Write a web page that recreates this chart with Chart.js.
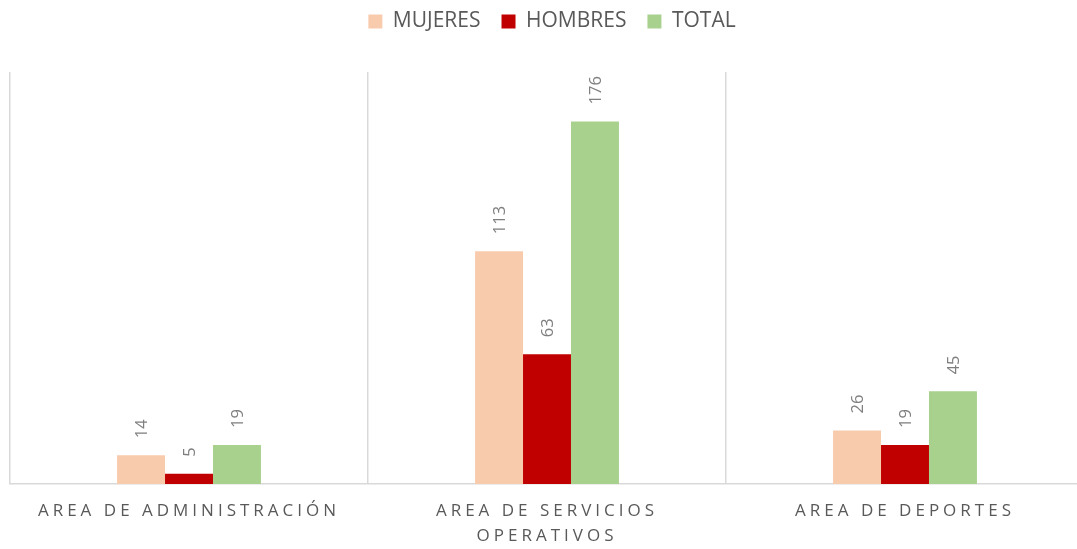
<!DOCTYPE html>
<html><head><meta charset="utf-8">
<script src="https://cdn.jsdelivr.net/npm/chart.js@4/dist/chart.umd.min.js"></script>
<style>
html,body{margin:0;padding:0;overflow:hidden;background:#fff;width:1077px;height:549px}
#wrap{position:relative;width:1100px;height:549px}
canvas{display:block}
</style></head>
<body><div id="wrap"><canvas id="c" width="1100" height="549"></canvas></div>
<script>
const categories = ['AREA DE ADMINISTRACIÓN', ['AREA DE SERVICIOS', 'OPERATIVOS'], 'AREA DE DEPORTES'];
const seriesNames = ['MUJERES', 'HOMBRES', 'TOTAL'];
const mujeres = [14, 113, 26];
const hombres = [5, 63, 19];
const total = [19, 176, 45];
const yMin = 0;
const yMax = 200;

const colors = ['#F8CBAD', '#C00000', '#A9D18E'];
const FONT = '"Open Sans", "Liberation Sans", sans-serif';

const layoutTweaks = {
  id: 'layoutTweaks',
  beforeUpdate(chart) {
    const lg = chart.legend;
    if (lg && !lg._fitPatched) {
      const origFit = lg.fit;
      lg.fit = function () {
        origFit.call(this);
        this.height += 30;
      };
      lg._fitPatched = true;
    }
  },
  beforeDraw(chart) {
    const s = chart.scales.x;
    if (s && !s._lsPatched) {
      const orig = s.drawLabels;
      s.drawLabels = function (ca) {
        const ctx = this.ctx;
        ctx.save();
        ctx.letterSpacing = '4px';
        orig.call(this, ca);
        ctx.restore();
      };
      s._lsPatched = true;
    }
  }
};

const valueLabels = {
  id: 'valueLabels',
  afterDatasetsDraw(chart) {
    const ctx = chart.ctx;
    ctx.save();
    ctx.font = '16.5px ' + FONT;
    ctx.fillStyle = '#7F7F7F';
    ctx.textAlign = 'left';
    ctx.textBaseline = 'middle';
    chart.data.datasets.forEach((ds, i) => {
      const meta = chart.getDatasetMeta(i);
      meta.data.forEach((el, j) => {
        ctx.save();
        ctx.translate(el.x + 1, el.y - 17);
        ctx.rotate(-Math.PI / 2);
        ctx.fillText(String(ds.data[j]), 0, 0);
        ctx.restore();
      });
    });
    ctx.restore();
  }
};

new Chart(document.getElementById('c'), {
  type: 'bar',
  data: {
    labels: categories,
    datasets: [
      { label: seriesNames[0], data: mujeres, backgroundColor: colors[0] },
      { label: seriesNames[1], data: hombres, backgroundColor: colors[1] },
      { label: seriesNames[2], data: total, backgroundColor: colors[2] }
    ]
  },
  options: {
    responsive: false,
    devicePixelRatio: 1,
    animation: false,
    layout: { padding: { top: -10, left: 10, right: 6, bottom: -15 } },
    datasets: { bar: { categoryPercentage: 0.402, barPercentage: 1.0, borderWidth: 0 } },
    plugins: {
      legend: {
        position: 'top',
        labels: {
          boxWidth: 14, boxHeight: 14, padding: 21,
          color: '#595959',
          font: { family: FONT, size: 21 }
        }
      },
      tooltip: { enabled: false }
    },
    scales: {
      x: {
        offset: true,
        grid: { display: true, offset: true, color: '#D9D9D9', lineWidth: 1.5, drawTicks: false },
        border: { display: true, color: '#D9D9D9', width: 1.5 },
        ticks: { color: '#595959', font: { family: FONT, size: 17, lineHeight: 1.47 }, padding: 15, maxRotation: 0, autoSkip: false }
      },
      y: {
        position: 'right',
        min: yMin, max: yMax,
        grid: { display: false },
        border: { display: false },
        ticks: { display: false },
        afterFit(s) { s.width = 10; }
      }
    }
  },
  plugins: [layoutTweaks, valueLabels]
});
</script>
</body></html>
